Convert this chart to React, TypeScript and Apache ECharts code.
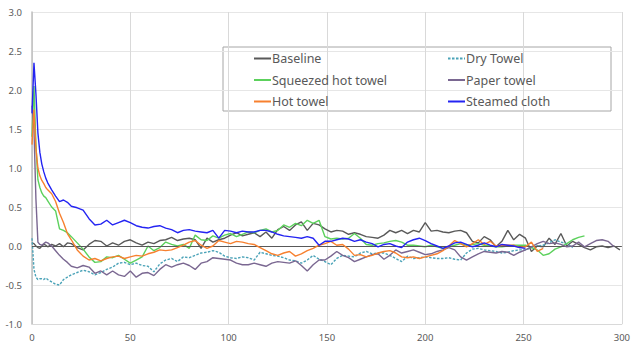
import React, { useEffect, useRef } from "react";
import * as echarts from "echarts";

const X = [0, 1, 2, 3, 4, 5, 6, 7, 8, 10, 12, 14, 16, 18, 20,
  23, 26, 29, 32, 35, 38, 41, 44, 47, 50, 53, 56, 59, 62, 65, 68, 71, 74, 77, 80,
  83, 86, 89, 92, 95, 98, 101, 104, 107, 110, 113, 116, 119, 122, 125, 128, 131, 134, 137, 140,
  143, 146, 149, 152, 155, 158, 161, 164, 167, 170, 173, 176, 179, 182, 185, 188, 191, 194, 197, 200,
  203, 206, 209, 212, 215, 218, 221, 224, 227, 230, 233, 236, 239, 242, 245, 248, 251, 254, 257, 260,
  263, 266, 269, 272, 275, 278, 281, 284, 287, 290, 293, 296, 299];

const baseline = [0.04, 0.03, 0.0, -0.02, -0.03, 0.0, 0.02, 0.01, -0.01, 0.02, 0.0, 0.03, -0.01, 0.04, 0.03,
  -0.02, -0.05, 0.02, 0.07, 0.06, 0.0, 0.04, 0.01, 0.06, 0.08, 0.04, 0.01, 0.05, 0.03, 0.07, 0.08, 0.11, 0.07, 0.09, 0.1,
  0.08, -0.03, 0.1, 0.05, 0.08, 0.1, 0.14, 0.17, 0.13, 0.15, 0.17, 0.12, 0.18, 0.1, 0.21, 0.25, 0.2, 0.27, 0.31, 0.2,
  0.29, 0.27, 0.22, 0.18, 0.2, 0.19, 0.15, 0.17, 0.15, 0.12, 0.11, 0.1, 0.14, 0.2, 0.17, 0.2, 0.16, 0.2, 0.18, 0.3,
  0.19, 0.2, 0.18, 0.17, 0.19, 0.2, 0.17, 0.06, 0.04, 0.12, 0.08, -0.01, 0.06, 0.2, 0.08, 0.15, 0.1, -0.07, 0.0, -0.01,
  0.1, 0.02, 0.16, 0.0, 0.06, 0.02, -0.02, -0.05, -0.01, 0.0, -0.02, 0.0, -0.05];

const dryTowel = [0.1, -0.3, -0.4, -0.43, -0.42, -0.42, -0.43, -0.41, -0.43, -0.46, -0.49, -0.5, -0.43, -0.4, -0.37,
  -0.34, -0.31, -0.33, -0.37, -0.34, -0.3, -0.27, -0.22, -0.21, -0.24, -0.22, -0.25, -0.26, -0.33, -0.23, -0.18, -0.16, -0.2, -0.14, -0.15,
  -0.12, -0.09, -0.08, -0.06, -0.08, -0.13, -0.15, -0.16, -0.14, -0.15, -0.18, -0.08, -0.1, -0.12, -0.13, -0.15, -0.18, -0.19, -0.22, -0.18,
  -0.12, -0.17, -0.2, -0.24, -0.16, -0.12, -0.13, -0.14, -0.09, -0.07, -0.1, -0.09, -0.09, -0.12, -0.16, -0.2, -0.13, -0.16, -0.15, -0.14,
  -0.15, -0.16, -0.16, -0.15, -0.17, -0.18, -0.09, -0.04, -0.03, -0.05, -0.06, -0.07, -0.09, -0.08, -0.06, -0.05, -0.05, -0.02, 0.0, 0.01,
  0.04, 0.08, 0.05, 0.03, -0.02, null, null, null, null, null, null, null, null];

const squeezed = [1.4, 2.05, 1.3, 0.85, 0.75, 0.68, 0.64, 0.62, 0.58, 0.5, 0.45, 0.22, 0.2, 0.17, 0.12,
  0.04, -0.04, -0.14, -0.21, -0.2, -0.14, -0.15, -0.12, -0.17, -0.22, -0.18, -0.14, 0.0, -0.06, -0.02, 0.05, 0.02, 0.0, 0.02, -0.03,
  0.14, 0.08, 0.07, 0.13, 0.1, 0.14, 0.16, 0.12, 0.15, 0.18, 0.17, 0.2, 0.22, 0.18, 0.2, 0.27, 0.24, 0.29, 0.26, 0.33,
  0.29, 0.33, 0.12, 0.09, 0.1, 0.09, 0.1, 0.16, 0.1, 0.02, 0.01, 0.03, 0.04, 0.06, 0.07, 0.05, 0.01, 0.01, 0.0, -0.01,
  0.01, -0.01, -0.03, -0.01, 0.01, 0.03, 0.01, 0.02, 0.03, 0.01, 0.0, -0.01, -0.01, 0.0, 0.01, 0.01, 0.01, -0.02, -0.05, -0.12,
  -0.1, -0.04, -0.01, 0.03, 0.08, 0.11, 0.13, null, null, null, null, null, null];

const paperTowel = [1.8, 1.5, 0.6, 0.05, 0.02, 0.01, 0.03, 0.05, 0.04, 0.0, -0.06, -0.12, -0.17, -0.21, -0.26,
  -0.28, -0.25, -0.27, -0.35, -0.32, -0.37, -0.32, -0.37, -0.39, -0.32, -0.4, -0.35, -0.34, -0.38, -0.3, -0.24, -0.27, -0.24, -0.22, -0.25,
  -0.3, -0.22, -0.2, -0.15, -0.16, -0.17, -0.18, -0.22, -0.24, -0.24, -0.22, -0.24, -0.26, -0.22, -0.2, -0.21, -0.22, -0.19, -0.25, -0.32,
  -0.24, -0.18, -0.18, -0.13, -0.07, -0.12, -0.15, -0.2, -0.17, -0.14, -0.11, -0.1, -0.17, -0.12, -0.05, -0.09, -0.07, -0.05, -0.08, -0.11,
  -0.1, -0.07, -0.05, -0.02, -0.05, -0.14, -0.18, -0.14, -0.1, -0.07, -0.08, -0.09, -0.07, -0.08, -0.12, -0.08, -0.05, -0.01, 0.03, 0.06,
  0.03, 0.04, 0.02, -0.01, 0.0, 0.05, -0.01, 0.03, 0.07, 0.08, 0.06, -0.01, null];

const hotTowel = [1.3, 1.75, 1.25, 1.0, 0.9, 0.84, 0.8, 0.75, 0.72, 0.67, 0.57, 0.42, 0.3, 0.16, 0.08,
  -0.05, -0.13, -0.18, -0.16, -0.19, -0.16, -0.14, -0.13, -0.16, -0.14, -0.12, -0.13, -0.1, -0.08, -0.05, -0.06, -0.05, -0.02, 0.01, 0.05,
  0.07, 0.01, -0.03, 0.0, 0.07, 0.05, 0.03, 0.06, 0.05, 0.03, 0.02, -0.02, -0.06, -0.1, -0.12, -0.09, -0.07, -0.13, -0.1, -0.06,
  -0.03, 0.01, 0.03, 0.06, 0.01, 0.02, -0.04, -0.12, -0.11, -0.14, -0.12, -0.09, -0.07, -0.06, -0.09, -0.14, -0.15, -0.14, -0.16, -0.14,
  -0.12, -0.1, -0.06, 0.0, 0.07, 0.03, -0.01, 0.03, 0.08, 0.02, 0.06, 0.0, 0.01, 0.01, 0.01, -0.02, -0.01, 0.05, -0.07, -0.03,
  null, null, null, null, null, null, null, null, null, null, null, null, null];

const steamed = [1.7, 2.35, 1.95, 1.45, 1.2, 1.05, 0.95, 0.87, 0.81, 0.72, 0.64, 0.57, 0.59, 0.56, 0.51,
  0.49, 0.46, 0.35, 0.27, 0.28, 0.33, 0.27, 0.3, 0.33, 0.3, 0.26, 0.24, 0.23, 0.25, 0.26, 0.23, 0.21, 0.17, 0.2, 0.21,
  0.19, 0.18, 0.17, 0.2, 0.1, 0.2, 0.19, 0.17, 0.19, 0.18, 0.18, 0.2, 0.2, 0.18, 0.15, 0.13, 0.12, 0.11, 0.1, 0.12,
  0.1, 0.01, 0.06, 0.06, 0.08, 0.1, 0.09, 0.06, 0.08, 0.05, 0.03, -0.01, 0.02, 0.03, 0.0, -0.02, 0.05, 0.08, 0.1, 0.07,
  0.03, 0.0, -0.03, 0.0, 0.04, 0.05, 0.02, -0.01, 0.01, 0.04, 0.01, -0.01, 0.02, 0.01, 0.0, -0.02, -0.03, null, null, null,
  null, null, null, null, null, null, null, null, null, null, null, null, null];

const seriesNames = ["Baseline", "Dry Towel", "Squeezed hot towel", "Paper towel", "Hot towel", "Steamed cloth"];
const seriesValues = [baseline, dryTowel, squeezed, paperTowel, hotTowel, steamed];
const seriesColors = ["#595959", "#4ba3b8", "#5cd15c", "#7a6791", "#f7802f", "#2424f2"];

const leftLegend = ["Baseline", "Squeezed hot towel", "Hot towel"];
const rightLegend = ["Dry Towel", "Paper towel", "Steamed cloth"];

export default function App() {
  const ref = useRef<HTMLDivElement>(null);
  useEffect(() => {
    if (!ref.current) return;
    const chart = echarts.init(ref.current, null, { renderer: "svg" });
    const font = "'Noto Sans', sans-serif";
    const legendCommon = {
      orient: "vertical" as const,
      top: 52,
      padding: 0,
      itemWidth: 17,
      itemHeight: 14,
      itemGap: 8.5,
      itemStyle: { opacity: 0 },
      textStyle: { color: "#595959", fontSize: 12.5, fontFamily: font, padding: [0, 0, 0, -4] },
    };
    chart.setOption({
      animation: false,
      grid: { left: 32, right: 5, top: 12, bottom: 20, containLabel: false },
      xAxis: {
        type: "value",
        min: 0,
        max: 300,
        interval: 50,
        axisLine: { show: true, onZero: false, lineStyle: { color: "#d9d9d9", width: 1 } },
        axisTick: { show: false },
        axisLabel: { color: "#595959", fontSize: 9.5, fontFamily: font, margin: 8 },
        splitLine: { show: true, lineStyle: { color: "#d9d9d9", width: 1 } },
      },
      yAxis: {
        type: "value",
        min: -1,
        max: 3,
        interval: 0.5,
        axisLine: { show: true, lineStyle: { color: "#bfbfbf", width: 1.5 } },
        axisTick: { show: false },
        axisLabel: { color: "#595959", fontSize: 9.5, fontFamily: font, margin: 10, formatter: (v: number) => v.toFixed(1) },
        splitLine: { show: true, lineStyle: { color: "#e6e6e6", width: 1 } },
      },
      legend: [
        { ...legendCommon, left: 253, data: leftLegend },
        { ...legendCommon, left: 447, data: rightLegend },
      ],
      graphic: [
        {
          type: "rect",
          shape: { x: 223, y: 47, width: 388, height: 64 },
          style: { fill: "#ffffff", stroke: "#a6a6a6", lineWidth: 1 },
          z: 0,
          zlevel: 0,
        },
      ],
      series: seriesNames.map((name, i) => ({
        name,
        type: "line",
        data: X.map((x, j) => [x, seriesValues[i][j]]),
        symbol: "none",
        smooth: false,
        connectNulls: false,
        z: i === 0 ? 3 : 2 + i,
        lineStyle: {
          color: seriesColors[i],
          width: 1.4,
          type: name === "Dry Towel" ? [2.5, 1.5] : "solid",
        },
        itemStyle: { color: seriesColors[i] },
        markLine: i === 0 ? {
          silent: true,
          symbol: "none",
          label: { show: false },
          lineStyle: { color: "#595959", width: 1, type: "solid" },
          data: [{ yAxis: 0 }],
        } : undefined,
      })),
    });
    return () => chart.dispose();
  }, []);
  return <div ref={ref} style={{ width: 633, height: 344, position: "absolute", left: 0, top: 0 }} />;
}
